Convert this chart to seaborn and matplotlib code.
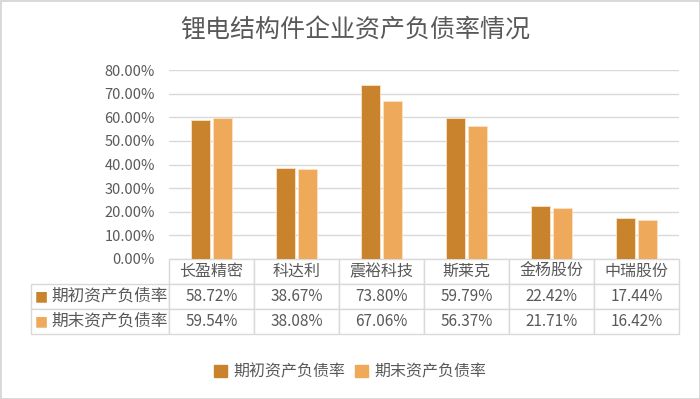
import matplotlib
matplotlib.use("Agg")
import matplotlib.pyplot as plt
import seaborn as sns
import pandas as pd

companies = ["长盈精密", "科达利", "震裕科技", "斯莱克", "金杨股份", "中瑞股份"]
series_names = ["期初资产负债率", "期末资产负债率"]
begin_rate = [58.72, 38.67, 73.80, 59.79, 22.42, 17.44]
end_rate = [59.54, 38.08, 67.06, 56.37, 21.71, 16.42]
y_ticks = [0, 10, 20, 30, 40, 50, 60, 70, 80]

colors = ["#C8832C", "#EEA95B"]
text_gray = "#595959"
line_gray = "#D9D9D9"

df = pd.DataFrame({
    "公司": companies * 2,
    "系列": [series_names[0]] * len(companies) + [series_names[1]] * len(companies),
    "值": begin_rate + end_rate,
})

sns.set_theme(style="white")
plt.rcParams["font.family"] = ["Noto Sans CJK SC", "DejaVu Sans"]

fig = plt.figure(figsize=(7, 3.99), dpi=100)
fig.patch.set_edgecolor(line_gray)
fig.patch.set_linewidth(2)
ax = fig.add_axes([169 / 700, 1 - 259 / 399, 510 / 700, 189 / 399])

sns.barplot(data=df, x="公司", y="值", hue="系列", palette=colors, saturation=1,
            width=0.52, gap=0.15, edgecolor="#FBE3C4", linewidth=0.6,
            legend=False, ax=ax, zorder=3)

ax.set_ylim(0, 80)
ax.set_xlim(-0.5, len(companies) - 0.5)
ax.set_yticks(y_ticks)
ax.set_yticklabels([f"{v:.2f}%" for v in y_ticks], color=text_gray, fontsize=10.5)
ax.tick_params(axis="y", length=0, pad=10)
ax.set_xticks([])
ax.set_xlabel("")
ax.set_ylabel("")
ax.yaxis.grid(True, color=line_gray, linewidth=1, zorder=0)
for s in ax.spines.values():
    s.set_visible(False)

# data table under the axes
label_w = 138 / 510
col_w = 1 / len(companies)
cell_text = [[""] + companies,
             [series_names[0]] + [f"{v:.2f}%" for v in begin_rate],
             [series_names[1]] + [f"{v:.2f}%" for v in end_rate]]
tbl = ax.table(cellText=cell_text, cellLoc="center",
               colWidths=[label_w] + [col_w] * len(companies),
               bbox=[-label_w, -75 / 189, 1 + label_w, 75 / 189])
tbl.auto_set_font_size(False)
for (r, c), cell in tbl.get_celld().items():
    cell.set_edgecolor(line_gray)
    cell.set_linewidth(1)
    cell.get_text().set_color(text_gray)
    cell.get_text().set_fontsize(12 if c == 0 else (11.5 if r == 0 else 11))
    if r == 0 and c == 0:
        cell.visible_edges = ""
    if c == 0 and r > 0:
        cell.get_text().set_ha("right")
        cell.PAD = 0.01
        cell._loc = "right"
for i, col in enumerate(colors):
    ax.text(-label_w + 10 / 510, -(25 + 12.5 + 25 * i) / 189, "■", color=col,
            transform=ax.transAxes, ha="center", va="center", fontsize=10,
            family=["DejaVu Sans"])

# legend
handles = [plt.Rectangle((0, 0), 1, 1, color=c) for c in colors]
fig.legend(handles, series_names, loc="center", bbox_to_anchor=(0.5, 1 - 372 / 399),
           ncol=2, frameon=False, handlelength=0.8, handleheight=0.8,
           handletextpad=0.4, columnspacing=0.6,
           prop={"size": 11.5}, labelcolor=text_gray)

fig.text(355 / 700, 1 - 31 / 399, "锂电结构件企业资产负债率情况", ha="center", va="center",
         fontsize=18, color=text_gray)

fig.savefig("out.png", dpi=100)
